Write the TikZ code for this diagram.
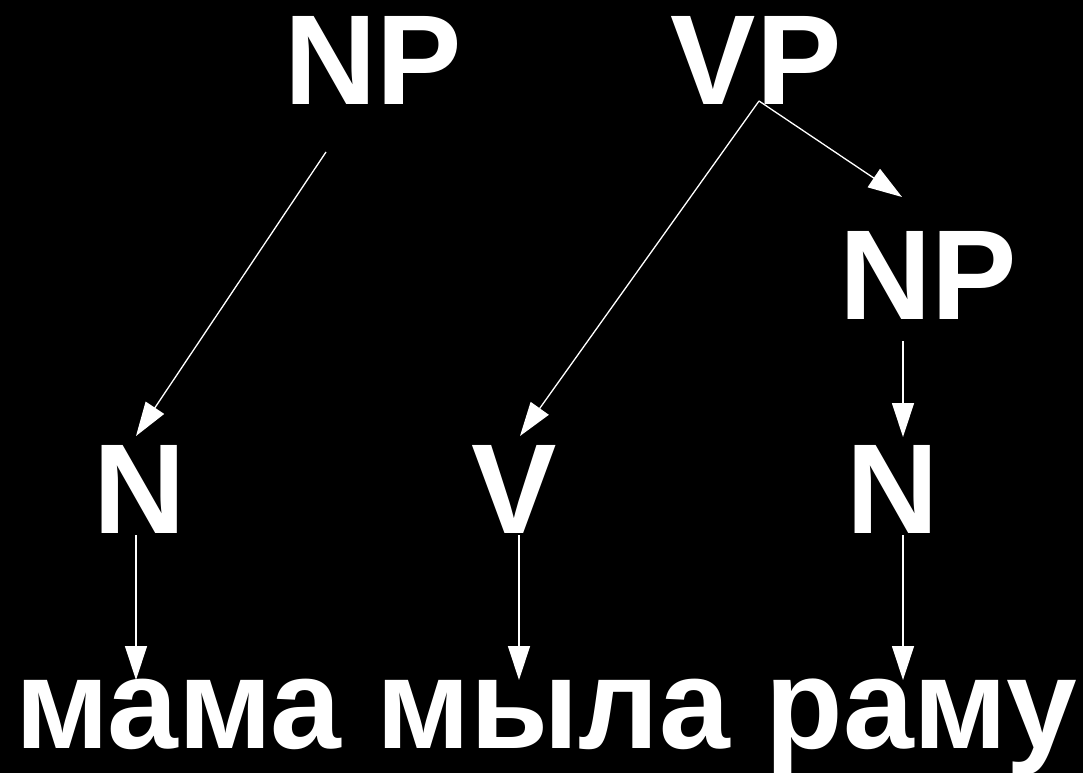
\documentclass[tikz,border=0pt]{standalone}
\usepackage{fontspec}
\setmainfont{Liberation Sans}
\usetikzlibrary{arrows.meta}
\begin{document}
\begin{tikzpicture}[x=1pt,y=-1pt,
  lbl/.style={text=white,font=\bfseries\fontsize{128}{128}\selectfont,inner sep=0pt,anchor=base},
  word/.style={text=white,font=\bfseries\fontsize{129}{129}\selectfont,inner sep=0pt,anchor=base west},
  edge/.style={draw=white,line width=1.3pt,-{Triangle[length=34pt,width=22pt]}}]
\fill[black] (0,0) rectangle (1083,773);
\useasboundingbox (0,0) rectangle (1083,773);
\node[lbl] (np1) at (373,105) {NP};
\node[lbl] (vp) at (756,105) {VP};
\node[lbl] (np2) at (928,319) {NP};
\node[lbl] (n1) at (140,533) {N};
\node[lbl] (v) at (514,533) {V};
\node[lbl] (n2) at (893,533) {N};
\node[word] (s) at (15,748) {\scalebox{0.985}[1]{мама мыла раму}};
% endpoints
\coordinate (np1s) at (326,152);
\coordinate (n1t) at (136,436);
\coordinate (vps) at (759,101);
\coordinate (vt) at (520,436);
\coordinate (np2t) at (902,197);
\coordinate (np2s) at (903,341);
\coordinate (n2t) at (903,437);
\coordinate (n1s) at (136,535);
\coordinate (w1) at (136,680);
\coordinate (vs) at (519,535);
\coordinate (w2) at (519,680);
\coordinate (n2s) at (903,535);
\coordinate (w3) at (903,680);
\draw[edge] (np1s) -- (n1t);
\draw[edge] (vps) -- (vt);
\draw[edge] (vps) -- (np2t);
\draw[edge] (np2s) -- (n2t);
\draw[edge] (n1s) -- (w1);
\draw[edge] (vs) -- (w2);
\draw[edge] (n2s) -- (w3);
\end{tikzpicture}
\end{document}
